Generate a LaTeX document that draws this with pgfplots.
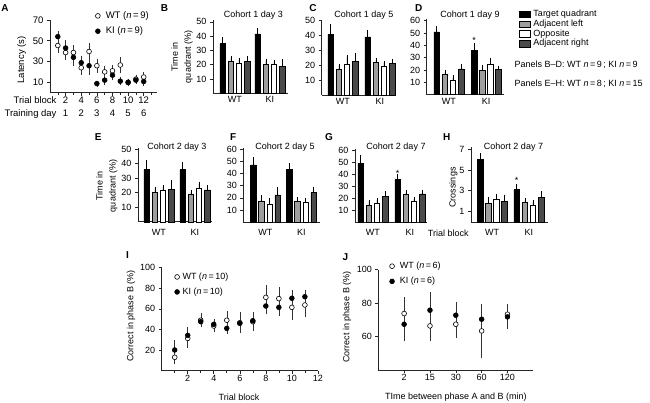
\documentclass[border=0pt]{standalone}
\usepackage{fontspec}
\setmainfont{Liberation Sans}
\usepackage{pgfplots}
\pgfplotsset{compat=1.18}
\definecolor{lgray}{HTML}{9E9E9E}
\definecolor{dgray}{HTML}{4A4A4A}
\newcommand{\yy}[1]{\the\dimexpr 403pt-#1pt\relax}
\newcommand{\fs}{\fontsize{9}{11}\selectfont}
\newcommand{\fsA}{\fontsize{9.5}{11}\selectfont}
\pgfplotsset{
  base/.style={scale only axis, anchor=south west, clip=false,
    axis x line*=bottom, axis y line*=left,
    axis line style={line width=0.6pt, black!85},
    tick align=outside, major tick length=3pt, minor tick length=2pt,
    tick style={black!85, line width=0.6pt},
    tick label style={font=\fs},
    /pgf/number format/assume math mode=true},
  barax/.style={base, ymin=0, xmin=0, xticklabels={WT,KI},
    major x tick style={draw=none}, xticklabel style={inner sep=0pt}},
  bq/.style={ybar, bar width=5.5pt, bar shift=0pt, draw=black, line width=0.5pt,
    error bars/y dir=plus, error bars/y explicit,
    error bars/error bar style={black, line width=0.5pt},
    error bars/error mark options={black, line width=0.5pt, mark size=2pt},
    legend image code/.code={\draw[##1] (0pt,-3.2pt) rectangle (11.5pt,3.2pt);}},
  tq/.style={bq, fill=black},
  al/.style={bq, fill=lgray},
  op/.style={bq, fill=white},
  ar/.style={bq, fill=dgray},
  pt/.style={only marks, mark=*, mark size=2.4pt,
    error bars/y dir=both, error bars/y explicit,
    error bars/error bar style={black!80, line width=0.5pt},
    error bars/error mark options={black!80, line width=0.5pt, mark size=2pt}},
  wt/.style={pt, mark options={fill=white, draw=black, line width=0.6pt}},
  ki/.style={pt, mark options={fill=black, draw=black, line width=0.6pt}},
  mleg/.style={legend image code/.code={\draw[mark repeat=2,mark phase=2,##1] plot coordinates {(0pt,0pt)(2.5pt,0pt)(5pt,0pt)};},
    legend style={draw=none, fill=none, inner sep=0pt, font=\fs, cells={anchor=west},
      nodes={inner sep=0.5pt, text height=6.3pt, text depth=1.7pt}}},
}
\begin{document}
\begin{tikzpicture}
\path[use as bounding box] (0pt,0pt) rectangle (650pt,403pt);

% ---------------- Panel A
\begin{axis}[base, at={(50pt,\yy{92.6})}, width=107pt, height=72.6pt,
  xmin=0, xmax=13.7, ymin=0, ymax=70,
  ytick={10,30,50,70}, xtick={2,4,...,12}, minor xtick={1,3,...,13},
  tick label style={font=\fsA},
  xticklabels={{2\\1},{4\\2},{6\\3},{8\\4},{10\\5},{12\\6}},
  xticklabel style={align=center, inner sep=1pt, font=\fontsize{9.5}{13.3}\selectfont},
  mleg, legend style={at={(0.423,1.121)}, anchor=north west, row sep=6.3pt, font=\fsA,
    /tikz/every odd column/.append style={column sep=5pt}}]
\addplot[wt] coordinates {(1,45.4) +- (0,5.5) (2,38.6) +- (0,5) (3,38.6) +- (0,5) (4,24) +- (0,5)
  (5,39.6) +- (0,6) (6,25.9) +- (0,5) (7,20) +- (0,4) (8,21) +- (0,4) (9,26.6) +- (0,6)
  (10,9.7) +- (0,1.5) (11,13) +- (0,2) (12,15) +- (0,3)};
\addlegendentry{WT (\textit{n}\,=\,9)}
\addplot[ki] coordinates {(1,54) +- (0,3) (2,43) +- (0,6) (3,34) +- (0,6) (4,28.8) +- (0,5)
  (5,25.9) +- (0,7) (6,8.7) +- (0,1) (7,12) +- (0,3) (8,16.8) +- (0,3) (9,11) +- (0,2)
  (10,10) +- (0,1.5) (11,12) +- (0,2) (12,10.7) +- (0,2)};
\addlegendentry{KI (\textit{n}\,=\,9)}
\end{axis}
\node[anchor=base east, font=\fsA, inner sep=0pt] at (56.7pt,\yy{103.3}) {Trial block};
\node[anchor=base east, font=\fsA, inner sep=0pt] at (56.7pt,\yy{116.7}) {Training day};
\node[rotate=90, font=\fsA, inner sep=0pt] at (21.7pt,\yy{60}) {Latency (s)};

% ---------------- Panel B
\begin{axis}[barax, at={(213pt,\yy{93.3})}, width=75pt, height=72.9pt,
  xmax=75, ymax=51, ytick={10,20,...,50}, xtick={21.85,56.85}]
\addplot[tq] coordinates {(9.7,34.7) +- (0,3.5) (44.7,41.5) +- (0,3)};
\addplot[al] coordinates {(17.8,22.4) +- (0,2.6) (52.8,20) +- (0,2.8)};
\addplot[op] coordinates {(25.9,20.8) +- (0,2.8) (60.9,20) +- (0,1.6)};
\addplot[ar] coordinates {(34.0,22.4) +- (0,2.6) (69.0,19) +- (0,3.5)};
\end{axis}

% ---------------- Panel C
\begin{axis}[barax, at={(321.7pt,\yy{95})}, width=74.3pt, height=75.2pt,
  xmax=74.3, ymax=50.5, ytick={10,20,...,50}, xtick={21.15,58.15}]
\addplot[tq] coordinates {(9,40.7) +- (0,5.5) (46,39) +- (0,3)};
\addplot[al] coordinates {(17.1,17) +- (0,2.5) (54.1,21.8) +- (0,1.5)};
\addplot[op] coordinates {(25.2,20.5) +- (0,5) (62.2,19) +- (0,2.5)};
\addplot[ar] coordinates {(33.3,22.5) +- (0,4.5) (70.3,21) +- (0,1.5)};
\end{axis}

% ---------------- Panel D
\begin{axis}[barax, at={(426.7pt,\yy{94.7})}, width=76.8pt, height=75.2pt,
  xmax=76.8, ymax=61, ytick={10,20,...,60}, xtick={22.15,59.45},
  mleg, legend style={at={(1.195,1.133)}, anchor=north west, row sep=0.8pt,
    /tikz/every odd column/.append style={column sep=2.3pt}}]
\addplot[tq] coordinates {(10,51) +- (0,3) (47.3,36) +- (0,4.5)};
\addlegendentry{Target quadrant}
\addplot[al] coordinates {(18.1,16.5) +- (0,2) (55.4,20) +- (0,2.5)};
\addlegendentry{Adjacent left}
\addplot[op] coordinates {(26.2,12) +- (0,2) (63.5,24.5) +- (0,4)};
\addlegendentry{Opposite}
\addplot[ar] coordinates {(34.3,21) +- (0,2) (71.6,20.5) +- (0,1)};
\addlegendentry{Adjacent right}
\end{axis}

% ---------------- Panel E
\begin{axis}[barax, at={(138pt,\yy{221.8})}, width=74pt, height=74pt,
  xmax=74, ymax=51, ytick={10,20,...,50}, xtick={20.85,56.85},
  xticklabel style={yshift=-4pt}]
\addplot[tq] coordinates {(8.7,36.2) +- (0,5) (44.7,36) +- (0,4)};
\addplot[al] coordinates {(16.8,20.3) +- (0,2.5) (52.8,19) +- (0,1.5)};
\addplot[op] coordinates {(24.9,21.5) +- (0,2.5) (60.9,23.3) +- (0,2.8)};
\addplot[ar] coordinates {(33,22.6) +- (0,4.5) (69,22) +- (0,1.8)};
\end{axis}

% ---------------- Panel F
\begin{axis}[barax, at={(243.3pt,\yy{222.2})}, width=76.7pt, height=74.4pt,
  xmax=76.7, ymax=61, ytick={10,20,...,60}, xtick={22.15,58.15},
  xticklabel style={yshift=-4pt}]
\addplot[tq] coordinates {(10,46.9) +- (0,5) (46,43.3) +- (0,3.5)};
\addplot[al] coordinates {(18.1,17.4) +- (0,3) (54.1,17.4) +- (0,1.5)};
\addplot[op] coordinates {(26.2,14.6) +- (0,3.5) (62.2,16) +- (0,2)};
\addplot[ar] coordinates {(34.3,22.3) +- (0,5) (70.3,24.5) +- (0,3)};
\end{axis}

% ---------------- Panel G
\begin{axis}[barax, at={(355pt,\yy{222})}, width=72pt, height=73.2pt,
  xmax=72, ymax=61, ytick={10,20,...,60}, xtick={17.85,54.85},
  xticklabel style={yshift=-4pt}]
\addplot[tq] coordinates {(5.7,49) +- (0,5) (42.7,35.5) +- (0,3)};
\addplot[al] coordinates {(13.8,14) +- (0,3) (50.8,23.2) +- (0,1.5)};
\addplot[op] coordinates {(21.9,15.3) +- (0,3) (58.9,17) +- (0,2)};
\addplot[ar] coordinates {(30,21.3) +- (0,2.5) (67,23.5) +- (0,1.5)};
\end{axis}

% ---------------- Panel H
\begin{axis}[barax, at={(471pt,\yy{222})}, width=77pt, height=74.9pt,
  xmax=77, ymax=7.2, ytick={1,3,5,7}, xtick={21.15,57.85},
  xticklabel style={yshift=-4pt}]
\addplot[tq] coordinates {(9,6.0) +- (0,0.45) (45.7,3.1) +- (0,0.4)};
\addplot[al] coordinates {(17.1,1.8) +- (0,0.45) (53.8,1.9) +- (0,0.2)};
\addplot[op] coordinates {(25.2,2.2) +- (0,0.3) (61.9,1.65) +- (0,0.3)};
\addplot[ar] coordinates {(33.3,2.0) +- (0,0.45) (70,2.4) +- (0,0.35)};
\end{axis}

% ---------------- Panel I
\begin{axis}[base, at={(161.7pt,\yy{370.7})}, width=156.2pt, height=103pt,
  xmin=0, xmax=12, ymin=0, ymax=100,
  ytick={20,40,...,100}, xtick={2,4,...,12}, minor xtick={1,3,...,11},
  xticklabel style={inner sep=1pt},
  mleg, legend style={at={(0.082,0.956)}, anchor=north west, row sep=6pt,
    /tikz/every odd column/.append style={column sep=2.5pt}}]
\addplot[wt] coordinates {(1,13) +- (0,5) (2,31.4) +- (0,7) (3,49) +- (0,5) (4,43.4) +- (0,4)
  (5,49) +- (0,7) (6,46.6) +- (0,8) (7,47.6) +- (0,7) (8,71.2) +- (0,10) (9,70) +- (0,9.5)
  (10,61.5) +- (0,10) (11,63.8) +- (0,10)};
\addlegendentry{WT (\textit{n}\,=\,10)}
\addplot[ki] coordinates {(1,20.1) +- (0,7.5) (2,34.3) +- (0,6) (3,47.6) +- (0,3) (4,45) +- (0,3)
  (5,41.1) +- (0,4) (6,46) +- (0,6) (7,48.5) +- (0,4) (8,62.8) +- (0,6) (9,61.5) +- (0,6)
  (10,70.3) +- (0,6) (11,71.8) +- (0,5)};
\addlegendentry{KI (\textit{n}\,=\,10)}
\end{axis}
\node[rotate=90, font=\fs, inner sep=0pt] at (131pt,\yy{316}) {Correct in phase B (\%)};
\node[font=\fs, inner sep=0pt] at (239pt,\yy{397}) {Trial block};

% ---------------- Panel J
\begin{axis}[base, at={(378.3pt,\yy{370})}, width=155pt, height=100.2pt,
  xmin=0, xmax=6, ymin=40, ymax=100,
  ytick={60,80,100}, xtick={1,2,3,4,5}, xticklabels={2,15,30,60,120},
  xticklabel style={inner sep=1pt},
  mleg, legend style={at={(0.072,1.083)}, anchor=north west, row sep=6.2pt,
    /tikz/every odd column/.append style={column sep=5pt}}]
\addplot[wt] coordinates {(1,73.8) +- (0,8.5) (2,66.4) +- (0,8) (3,67.4) +- (0,7) (4,63.4) +- (0,15) (5,73.4) +- (0,5)};
\addlegendentry{WT (\textit{n}\,=\,6)}
\addplot[ki] coordinates {(1,67.4) +- (0,9) (2,75.8) +- (0,9.5) (3,72.8) +- (0,6.5) (4,70.4) +- (0,8) (5,71.8) +- (0,6)};
\addlegendentry{KI (\textit{n}\,=\,6)}
\end{axis}
\node[rotate=90, font=\fs, inner sep=0pt] at (347pt,\yy{317}) {Correct in phase B (\%)};
\node[font=\fs, inner sep=0pt] at (455.8pt,\yy{397}) {TIme between phase A and B (min)};

% ---------------- bar panel labels and titles
\node[rotate=90, align=center, font=\fontsize{9}{13}\selectfont, inner sep=0pt] at (182pt,\yy{57}) {Time in\\quadrant (\%)};
\node[rotate=90, align=center, font=\fontsize{9}{13}\selectfont, inner sep=0pt] at (106.7pt,\yy{186}) {Time in\\quadrant (\%)};
\node[rotate=90, font=\fs, inner sep=0pt] at (453.3pt,\yy{187.5}) {Crossings};
\node[font=\fs, inner sep=0pt] at (448.3pt,\yy{233}) {Trial block};

\node[font=\fs, inner sep=0pt] at (253.3pt,\yy{15.5}) {Cohort 1 day 3};
\node[font=\fs, inner sep=0pt] at (363.8pt,\yy{15.5}) {Cohort 1 day 5};
\node[font=\fs, inner sep=0pt] at (470pt,\yy{15.5}) {Cohort 1 day 9};
\node[font=\fs, inner sep=0pt] at (176.8pt,\yy{147}) {Cohort 2 day 3};
\node[font=\fs, inner sep=0pt] at (285pt,\yy{147}) {Cohort 2 day 5};
\node[font=\fs, inner sep=0pt] at (396pt,\yy{147}) {Cohort 2 day 7};
\node[font=\fs, inner sep=0pt] at (513.5pt,\yy{147}) {Cohort 2 day 7};

\node[font=\fs, inner sep=0pt] at (474pt,\yy{40.3}) {*};
\node[font=\fs, inner sep=0pt] at (397.7pt,\yy{173}) {*};
\node[font=\fs, inner sep=0pt] at (516.7pt,\yy{180.3}) {*};

\node[anchor=west, font=\fs, inner sep=0pt] at (514.3pt,\yy{65}) {Panels B--D: WT \textit{n}\,=\,9\,; KI \textit{n}\,=\,9};
\node[anchor=west, font=\fs, inner sep=0pt] at (514.3pt,\yy{84.3}) {Panels E--H: WT \textit{n}\,=\,8\,; KI \textit{n}\,=\,15};

% ---------------- panel letters
\foreach \L/\X/\Y in {A/5/8.3, B/164.5/8.3, C/313/8.3, D/418.7/8.3, E/98.3/136.7, F/233.3/136.7, G/329/136.7, H/446.7/136.7, I/127.5/255.5, J/345.5/256.8}
  \node[font=\fontsize{10}{12}\selectfont\bfseries, inner sep=0pt] at (\X pt,\yy{\Y}) {\L};
\end{tikzpicture}
\end{document}
